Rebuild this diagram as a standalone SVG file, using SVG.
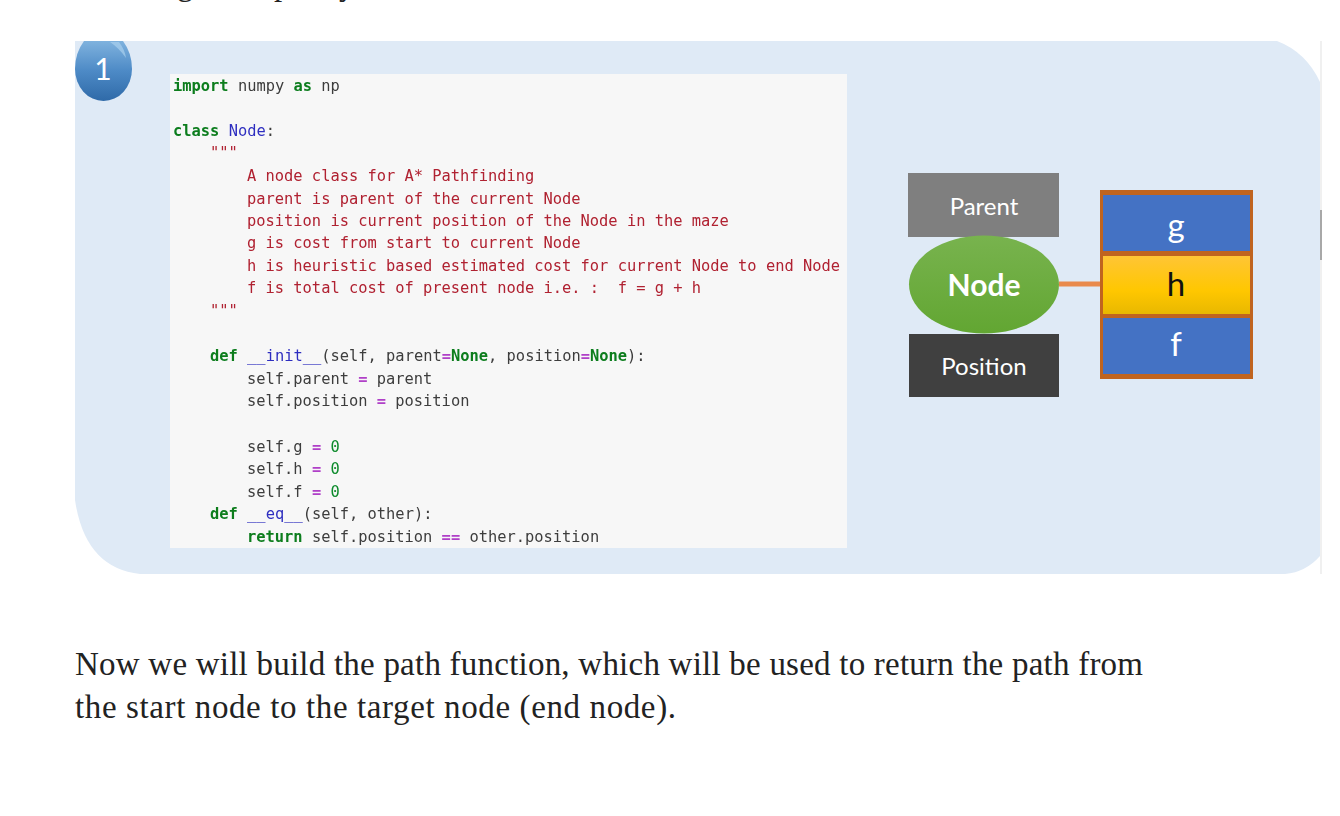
<svg xmlns="http://www.w3.org/2000/svg" width="1340" height="816" viewBox="0 0 1340 816">
<style>
.c{font-family:"DejaVu Sans Mono","Liberation Mono",monospace;font-size:15.4px;fill:#3d3d3d;white-space:pre}
.k{fill:#0a7d1e;font-weight:bold}.b{fill:#2f2fc0}.r{fill:#b02030}.o{fill:#b040c8;font-weight:bold}.n{fill:#0a8a2a}
.l{font-family:Lato,"Noto Sans",sans-serif;fill:#fff;text-anchor:middle}
.t{font-family:"Liberation Serif","DejaVu Serif",serif;font-size:33px;fill:#222}
</style>
<defs>
<linearGradient id="ball" x1="0" y1="0" x2="0" y2="1"><stop offset="0" stop-color="#7fb2de"/><stop offset="0.5" stop-color="#4d8ac6"/><stop offset="1" stop-color="#2f6aa8"/></linearGradient>
<linearGradient id="gold" x1="0" y1="0" x2="0" y2="1"><stop offset="0" stop-color="#ffc535"/><stop offset="0.6" stop-color="#ffc700"/><stop offset="1" stop-color="#e8b800"/></linearGradient>
<linearGradient id="green" x1="0" y1="0" x2="0" y2="1"><stop offset="0" stop-color="#78b34e"/><stop offset="1" stop-color="#62a632"/></linearGradient>
<filter id="soft" x="-2%" y="-2%" width="104%" height="104%"><feGaussianBlur stdDeviation="0.4"/></filter>
</defs>
<rect width="1340" height="816" fill="#fff"/>
<g id="heading"><text class="t" x="177" y="-5">g</text><text class="t" x="274" y="-5">p</text><text class="t" x="339" y="-5">y</text></g>
<g id="panel">
<path d="M75 41H1277Q1306 52 1320 82V556Q1306 572 1285 574H140Q85 568 75 500Z" fill="#dfeaf6"/>
<rect x="1320" y="41" width="2" height="533" fill="#f0f0f0"/>
<rect x="1320" y="210" width="2" height="50" fill="#a8a8a8"/>
</g>
<g id="badge">
<path d="M84 41H123Q132 53 132 69A28.500 32 0 0 1 75 69Q75 53 84 41Z" fill="url(#ball)"/>
<path d="M110 42H119Q125 50 126 58Q119 48 110 42Z" fill="#a9d0ee" opacity="0.7"/>
<text x="103" y="80" class="l" font-size="30">1</text>
</g>
<g id="code">
<rect x="170" y="74" width="677" height="474" fill="#f7f7f7"/>
<text class="c" xml:space="preserve" filter="url(#soft)">
<tspan x="173" y="91"><tspan class="k">import</tspan> numpy <tspan class="k">as</tspan> np</tspan>
<tspan x="173" y="136"><tspan class="k">class</tspan> <tspan class="b">Node</tspan>:</tspan>
<tspan x="210" y="158" class="r">"""</tspan>
<tspan x="247" y="181" class="r">A node class for A* Pathfinding</tspan>
<tspan x="247" y="204" class="r">parent is parent of the current Node</tspan>
<tspan x="247" y="226" class="r">position is current position of the Node in the maze</tspan>
<tspan x="247" y="248" class="r">g is cost from start to current Node</tspan>
<tspan x="247" y="271" class="r">h is heuristic based estimated cost for current Node to end Node</tspan>
<tspan x="247" y="293" class="r">f is total cost of present node i.e. :  f = g + h</tspan>
<tspan x="210" y="316" class="r">"""</tspan>
<tspan x="210" y="361"><tspan class="k">def</tspan> <tspan class="b">__init__</tspan>(self, parent<tspan class="o">=</tspan><tspan class="k">None</tspan>, position<tspan class="o">=</tspan><tspan class="k">None</tspan>):</tspan>
<tspan x="247" y="384">self.parent <tspan class="o">=</tspan> parent</tspan>
<tspan x="247" y="406">self.position <tspan class="o">=</tspan> position</tspan>
<tspan x="247" y="452">self.g <tspan class="o">=</tspan> <tspan class="n">0</tspan></tspan>
<tspan x="247" y="474">self.h <tspan class="o">=</tspan> <tspan class="n">0</tspan></tspan>
<tspan x="247" y="497">self.f <tspan class="o">=</tspan> <tspan class="n">0</tspan></tspan>
<tspan x="210" y="519"><tspan class="k">def</tspan> <tspan class="b">__eq__</tspan>(self, other):</tspan>
<tspan x="247" y="542"><tspan class="k">return</tspan> self.position <tspan class="o">==</tspan> other.position</tspan>
</text>
</g>
<g id="connectors"><line x1="1059" y1="284" x2="1101" y2="284" stroke="#e98a4c" stroke-width="5"/></g>
<g id="parent"><rect x="908" y="173" width="151" height="64" fill="#7f7f7f"/><text x="984" y="215" class="l" font-size="24">Parent</text></g>
<g id="node"><ellipse cx="984" cy="284.500" rx="75" ry="49" fill="url(#green)"/><text x="984" y="296" class="l" font-size="30" font-weight="bold">Node</text></g>
<g id="position"><rect x="909" y="334" width="150" height="63" fill="#404040"/><text x="984" y="375" class="l" font-size="24">Position</text></g>
<g id="fields">
<rect x="1100" y="190" width="153" height="189" fill="#c0641f"/>
<rect x="1103" y="195" width="147" height="56" fill="#4472c4"/>
<rect x="1103" y="256" width="147" height="58" fill="url(#gold)"/>
<rect x="1103" y="318" width="147" height="56" fill="#4472c4"/>
<text x="1176" y="237" class="l" font-size="33">g</text>
<text x="1176" y="296" class="l" font-size="33" style="fill:#111">h</text>
<text x="1176" y="356" class="l" font-size="33">f</text>
</g>
<g id="caption">
<text class="t" x="75" y="675" textLength="1068" lengthAdjust="spacing">Now we will build the path function, which will be used to return the path from</text>
<text class="t" x="75" y="718" textLength="601" lengthAdjust="spacing">the start node to the target node (end node).</text>
</g>
</svg>
